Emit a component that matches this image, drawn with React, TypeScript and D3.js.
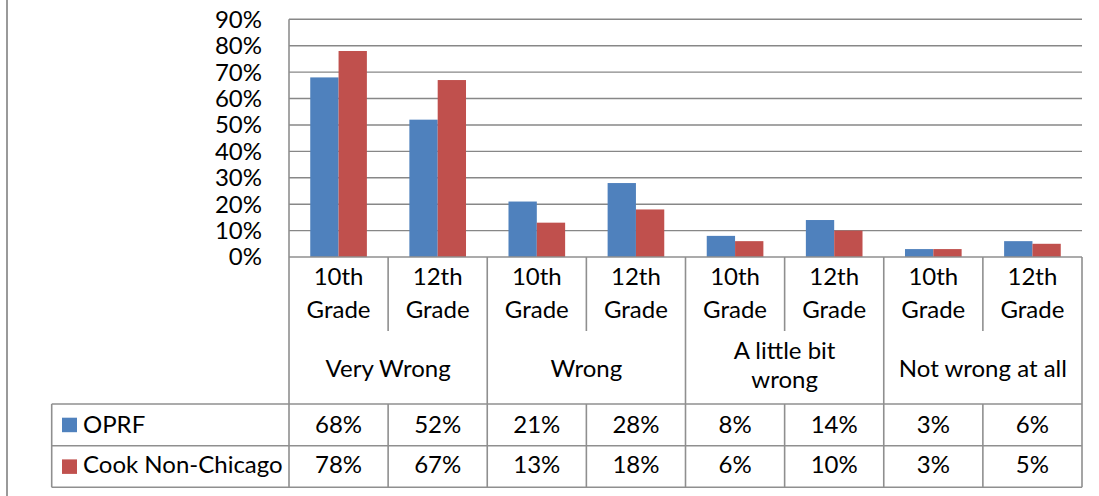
import React from "react";
import * as d3 from "d3";

const groupLabels: string[][] = [["Very Wrong"], ["Wrong"], ["A little bit", "wrong"], ["Not wrong at all"]];
const gradeLabels: string[][] = [["10th", "Grade"], ["12th", "Grade"]];
const seriesNames = ["OPRF", "Cook Non-Chicago"];
const oprfValues = [0.68, 0.52, 0.21, 0.28, 0.08, 0.14, 0.03, 0.06];
const cookValues = [0.78, 0.67, 0.13, 0.18, 0.06, 0.1, 0.03, 0.05];
const yTickValues = [0, 0.1, 0.2, 0.3, 0.4, 0.5, 0.6, 0.7, 0.8, 0.9];

const W = 1099;
const H = 496;
const FONT = "Lato, 'Liberation Sans', sans-serif";
const FS = 24;
const colors = ["#4F81BD", "#C0504D"];
const gridColor = "#878787";
const tableColor = "#8f8f8f";

const plotLeft = 289;
const plotRight = 1082;
const plotTop = 19.3;
const plotBottom = 257;
const gradeRowBottom = 331;
const groupRowBottom = 404;
const row1Bottom = 445.7;
const row2Bottom = 487.3;
const legendLeft = 51.7;

export default function App() {
  const series = [oprfValues, cookValues];
  const cats = d3.range(groupLabels.length * gradeLabels.length);
  const x = d3.scaleBand<number>().domain(cats).range([plotLeft, plotRight]).padding(0);
  const cw = x.bandwidth();
  const bw = cw / 3.5;
  const xs = d3.scaleBand<number>().domain([0, 1]).range([0.75 * bw, 0.75 * bw + 2 * bw]).padding(0);
  const y = d3.scaleLinear().domain([0, 0.9]).range([plotBottom, plotTop]);
  const fmt = d3.format(".0%");
  const groupW = cw * gradeLabels.length;

  return (
    <svg width={W} height={H} style={{ position: "absolute", left: 0, top: 0, background: "#fff" }} fontFamily={FONT}>
      <rect x={0} y={0} width={W} height={H} fill="#fff" />
      {/* outer left border */}
      <line x1={7} x2={7} y1={0} y2={H} stroke="#9a9a9a" strokeWidth={2} />
      {/* gridlines */}
      {yTickValues.slice(1).map((t) => (
        <line key={t} x1={plotLeft} x2={plotRight} y1={y(t)} y2={y(t)} stroke={gridColor} strokeWidth={1.4} />
      ))}
      {/* y tick labels */}
      {yTickValues.map((t) => (
        <text key={t} x={262} y={y(t) + 8.4} textAnchor="end" fontSize={FS} fill="#000">
          {fmt(t)}
        </text>
      ))}
      {/* bars */}
      {series.map((vals, si) =>
        vals.map((v, i) => (
          <rect
            key={`${si}-${i}`}
            x={(x(i) as number) + (xs(si) as number)}
            y={y(v)}
            width={xs.bandwidth()}
            height={y(0) - y(v)}
            fill={colors[si]}
          />
        ))
      )}
      {/* plot left axis line */}
      <line x1={plotLeft} x2={plotLeft} y1={plotTop} y2={row2Bottom} stroke={tableColor} strokeWidth={1.6} />
      {/* category axis base line */}
      <line x1={plotLeft} x2={plotRight} y1={plotBottom} y2={plotBottom} stroke={tableColor} strokeWidth={1.6} />
      {/* right line of table */}
      <line x1={plotRight} x2={plotRight} y1={plotBottom} y2={row2Bottom} stroke={tableColor} strokeWidth={1.6} />
      {/* group dividers */}
      {d3.range(1, groupLabels.length).map((g) => (
        <line key={g} x1={plotLeft + g * groupW} x2={plotLeft + g * groupW} y1={plotBottom} y2={row2Bottom} stroke={tableColor} strokeWidth={1.6} />
      ))}
      {/* grade dividers within group */}
      {groupLabels.map((_, g) => (
        <line key={g} x1={plotLeft + g * groupW + cw} x2={plotLeft + g * groupW + cw} y1={plotBottom} y2={gradeRowBottom} stroke={tableColor} strokeWidth={1.6} />
      ))}
      {/* value cell dividers within groups */}
      {groupLabels.map((_, g) => (
        <line key={g} x1={plotLeft + g * groupW + cw} x2={plotLeft + g * groupW + cw} y1={groupRowBottom} y2={row2Bottom} stroke={tableColor} strokeWidth={1.6} />
      ))}
      {/* table horizontal lines */}
      {[groupRowBottom, row1Bottom, row2Bottom].map((yy) => (
        <line key={yy} x1={legendLeft} x2={plotRight} y1={yy} y2={yy} stroke={tableColor} strokeWidth={1.6} />
      ))}
      <line x1={legendLeft} x2={legendLeft} y1={groupRowBottom} y2={row2Bottom} stroke={tableColor} strokeWidth={1.6} />
      {/* grade labels */}
      {cats.map((i) => {
        const lines = gradeLabels[i % gradeLabels.length];
        return (
          <text key={i} x={(x(i) as number) + cw / 2} textAnchor="middle" fontSize={FS} fill="#000">
            <tspan x={(x(i) as number) + cw / 2} y={285}>{lines[0]}</tspan>
            <tspan x={(x(i) as number) + cw / 2} y={317.7}>{lines[1]}</tspan>
          </text>
        );
      })}
      {/* group labels */}
      {groupLabels.map((lines, g) => {
        const cx = plotLeft + g * groupW + groupW / 2;
        const baselines = lines.length === 1 ? [376.7] : [359.3, 388.3];
        return (
          <text key={g} textAnchor="middle" fontSize={FS} fill="#000">
            {lines.map((l, k) => (
              <tspan key={k} x={cx} y={baselines[k]}>{l}</tspan>
            ))}
          </text>
        );
      })}
      {/* data table rows */}
      {series.map((vals, si) => {
        const top = si === 0 ? groupRowBottom : row1Bottom;
        const base = si === 0 ? 432.7 : 473.3;
        return (
          <g key={si}>
            <rect x={62} y={top + 13.7} width={15} height={14.5} fill={colors[si]} />
            <text x={83} y={base} fontSize={FS} fill="#000">{seriesNames[si]}</text>
            {vals.map((v, i) => (
              <text key={i} x={(x(i) as number) + cw / 2} y={base} textAnchor="middle" fontSize={FS} fill="#000">
                {fmt(v)}
              </text>
            ))}
          </g>
        );
      })}
    </svg>
  );
}
